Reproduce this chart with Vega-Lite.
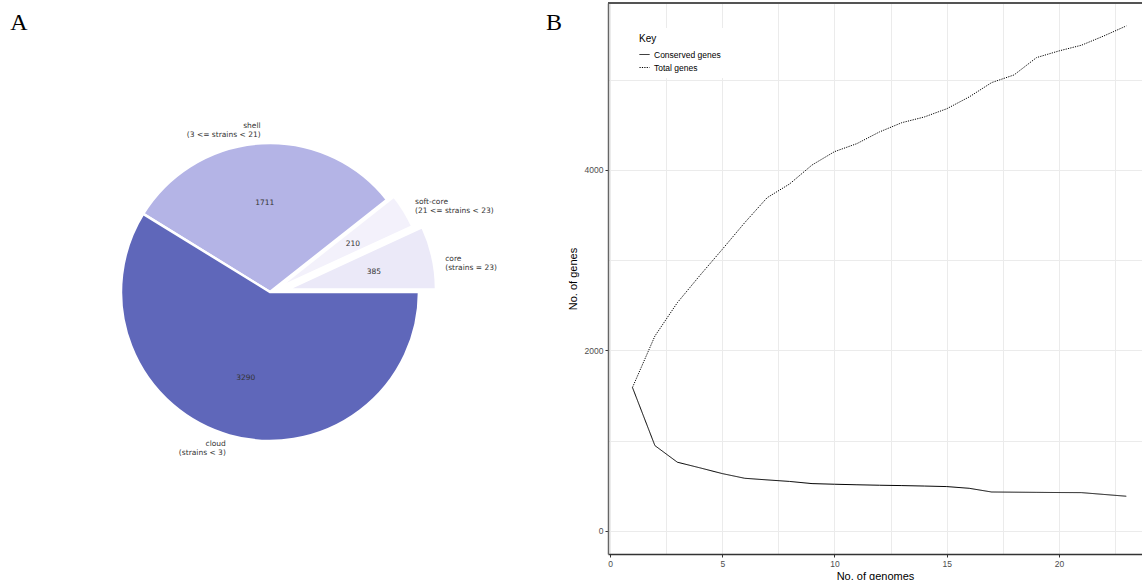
{
  "$schema": "https://vega.github.io/schema/vega-lite/v6.json",
  "padding": {"left": 10, "top": 2, "right": 0, "bottom": 0},
  "background": "white",
  "config": {
    "view": {"stroke": null},
    "concat": {"spacing": 37},
    "axis": {
      "labelFont": "Liberation Sans",
      "labelFontSize": 8.5,
      "labelColor": "#4d4d4d",
      "titleFont": "Liberation Sans",
      "titleFontSize": 11,
      "titleFontWeight": "normal",
      "titleColor": "#000000",
      "tickColor": "#333333",
      "tickSize": 3,
      "gridColor": "#ebebeb",
      "gridWidth": 1
    }
  },
  "resolve": {"legend": {"strokeDash": "independent", "color": "independent"}, "scale": {"color": "independent", "strokeDash": "independent"}},
  "datasets": {
    "pie": [
      {"group": "core", "label": "core\n(strains = 23)", "genes": 385, "order": 1},
      {"group": "soft-core", "label": "soft-core\n(21 <= strains < 23)", "genes": 210, "order": 2},
      {"group": "shell", "label": "shell\n(3 <= strains < 21)", "genes": 1711, "order": 3},
      {"group": "cloud", "label": "cloud\n(strains < 3)", "genes": 3290, "order": 4}
    ],
    "curve": [
      {"genomes": 1, "series": "Conserved genes", "genes": 1590},
      {"genomes": 2, "series": "Conserved genes", "genes": 946},
      {"genomes": 3, "series": "Conserved genes", "genes": 762},
      {"genomes": 4, "series": "Conserved genes", "genes": 700},
      {"genomes": 5, "series": "Conserved genes", "genes": 636},
      {"genomes": 6, "series": "Conserved genes", "genes": 584},
      {"genomes": 7, "series": "Conserved genes", "genes": 566},
      {"genomes": 8, "series": "Conserved genes", "genes": 549},
      {"genomes": 9, "series": "Conserved genes", "genes": 525},
      {"genomes": 10, "series": "Conserved genes", "genes": 518},
      {"genomes": 11, "series": "Conserved genes", "genes": 512},
      {"genomes": 12, "series": "Conserved genes", "genes": 507},
      {"genomes": 13, "series": "Conserved genes", "genes": 503},
      {"genomes": 14, "series": "Conserved genes", "genes": 498},
      {"genomes": 15, "series": "Conserved genes", "genes": 492},
      {"genomes": 16, "series": "Conserved genes", "genes": 473},
      {"genomes": 17, "series": "Conserved genes", "genes": 432},
      {"genomes": 18, "series": "Conserved genes", "genes": 430},
      {"genomes": 19, "series": "Conserved genes", "genes": 428},
      {"genomes": 20, "series": "Conserved genes", "genes": 426},
      {"genomes": 21, "series": "Conserved genes", "genes": 425},
      {"genomes": 22, "series": "Conserved genes", "genes": 405},
      {"genomes": 23, "series": "Conserved genes", "genes": 385},
      {"genomes": 1, "series": "Total genes", "genes": 1590},
      {"genomes": 2, "series": "Total genes", "genes": 2160},
      {"genomes": 3, "series": "Total genes", "genes": 2530},
      {"genomes": 4, "series": "Total genes", "genes": 2830},
      {"genomes": 5, "series": "Total genes", "genes": 3120},
      {"genomes": 6, "series": "Total genes", "genes": 3416},
      {"genomes": 7, "series": "Total genes", "genes": 3693},
      {"genomes": 8, "series": "Total genes", "genes": 3845},
      {"genomes": 9, "series": "Total genes", "genes": 4055},
      {"genomes": 10, "series": "Total genes", "genes": 4203},
      {"genomes": 11, "series": "Total genes", "genes": 4292},
      {"genomes": 12, "series": "Total genes", "genes": 4421},
      {"genomes": 13, "series": "Total genes", "genes": 4524},
      {"genomes": 14, "series": "Total genes", "genes": 4587},
      {"genomes": 15, "series": "Total genes", "genes": 4678},
      {"genomes": 16, "series": "Total genes", "genes": 4809},
      {"genomes": 17, "series": "Total genes", "genes": 4968},
      {"genomes": 18, "series": "Total genes", "genes": 5053},
      {"genomes": 19, "series": "Total genes", "genes": 5245},
      {"genomes": 20, "series": "Total genes", "genes": 5319},
      {"genomes": 21, "series": "Total genes", "genes": 5382},
      {"genomes": 22, "series": "Total genes", "genes": 5485},
      {"genomes": 23, "series": "Total genes", "genes": 5596}
    ]
  },
  "hconcat": [
    {
      "width": 478,
      "height": 578,
      "title": {"text": "A", "orient": "left", "angle": 0, "anchor": "end", "font": "Liberation Serif", "fontSize": 24, "fontWeight": "normal", "color": "#000000", "offset": -14, "baseline": "top", "dy": 8},
      "data": {"name": "pie"},
      "transform": [
        {"stack": "genes", "groupby": [], "sort": [{"field": "order", "order": "ascending"}], "as": ["t0", "t1"], "offset": "normalize"},
        {"calculate": "(datum.t0 + datum.t1) / 2", "as": "tm"}
      ],
      "encoding": {
        "color": {"field": "group", "type": "nominal", "legend": null,
          "scale": {"domain": ["cloud", "shell", "soft-core", "core"], "range": ["#5f67ba", "#b4b4e6", "#f3f1fb", "#ebe9f8"]}}
      },
      "layer": [
        {
          "transform": [{"filter": "datum.group == 'shell' || datum.group == 'cloud'"}],
          "mark": {"type": "arc", "radius": 149, "stroke": "white", "strokeWidth": 2.5},
          "encoding": {
            "theta": {"field": "t0", "type": "quantitative", "scale": {"domain": [0, 1], "range": [1.5707963, -4.712389]}},
            "theta2": {"field": "t1"}
          }
        },
        {
          "transform": [{"filter": "datum.group == 'core'"}],
          "mark": {"type": "arc", "radius": 149, "stroke": "white", "strokeWidth": 2.5, "xOffset": 17, "yOffset": -2.5},
          "encoding": {
            "theta": {"field": "t0", "type": "quantitative"},
            "theta2": {"field": "t1"}
          }
        },
        {
          "transform": [{"filter": "datum.group == 'soft-core'"}],
          "mark": {"type": "arc", "radius": 149, "stroke": "white", "strokeWidth": 2.5, "xOffset": 7, "yOffset": -3.3},
          "encoding": {
            "theta": {"field": "t0", "type": "quantitative"},
            "theta2": {"field": "t1"}
          }
        },
        {
          "transform": [{"filter": "datum.group == 'shell' || datum.group == 'cloud'"}],
          "mark": {"type": "text", "radius": 89, "font": "DejaVu Sans", "fontSize": 7.5},
          "encoding": {
            "theta": {"field": "tm", "type": "quantitative"},
            "text": {"field": "genes"},
            "color": {"value": "#333333"}
          }
        },
        {
          "transform": [{"filter": "datum.group == 'core'"}],
          "mark": {"type": "text", "radius": 89, "font": "DejaVu Sans", "fontSize": 7.5, "xOffset": 17, "yOffset": -2.5, "dy": 2},
          "encoding": {
            "theta": {"field": "tm", "type": "quantitative"},
            "text": {"field": "genes"},
            "color": {"value": "#333333"}
          }
        },
        {
          "transform": [{"filter": "datum.group == 'soft-core'"}],
          "mark": {"type": "text", "radius": 89, "font": "DejaVu Sans", "fontSize": 7.5, "xOffset": 7, "yOffset": -3.3, "dy": 2},
          "encoding": {
            "theta": {"field": "tm", "type": "quantitative"},
            "text": {"field": "genes"},
            "color": {"value": "#333333"}
          }
        },
        {
          "transform": [{"filter": "datum.group == 'shell' || datum.group == 'cloud'"}],
          "mark": {"type": "text", "radius": 162, "align": "right", "baseline": "middle", "lineBreak": "\n", "lineHeight": 9, "font": "DejaVu Sans", "fontSize": 7.5, "dy": -4},
          "encoding": {
            "theta": {"field": "tm", "type": "quantitative"},
            "text": {"field": "label"},
            "color": {"value": "#333333"}
          }
        },
        {
          "transform": [{"filter": "datum.group == 'core'"}],
          "mark": {"type": "text", "radius": 162, "align": "left", "baseline": "middle", "lineBreak": "\n", "lineHeight": 9, "font": "DejaVu Sans", "fontSize": 7.5, "xOffset": 17, "yOffset": -2.5, "dy": 4},
          "encoding": {
            "theta": {"field": "tm", "type": "quantitative"},
            "text": {"field": "label"},
            "color": {"value": "#333333"}
          }
        },
        {
          "transform": [{"filter": "datum.group == 'soft-core'"}],
          "mark": {"type": "text", "radius": 162, "align": "left", "baseline": "middle", "lineBreak": "\n", "lineHeight": 9, "font": "DejaVu Sans", "fontSize": 7.5, "xOffset": 7, "yOffset": -3.3, "dy": -2},
          "encoding": {
            "theta": {"field": "tm", "type": "quantitative"},
            "text": {"field": "label"},
            "color": {"value": "#333333"}
          }
        }
      ]
    },
    {
      "width": 534,
      "height": 551,
      "title": {"text": "B", "orient": "left", "angle": 0, "anchor": "end", "font": "Liberation Serif", "fontSize": 24, "fontWeight": "normal", "color": "#000000", "offset": -11, "baseline": "top", "dy": 8},
      "data": {"name": "curve"},
      "layer": [
        {
          "mark": {"type": "line", "color": "#000000", "strokeWidth": 1},
          "encoding": {
            "x": {"field": "genomes", "type": "quantitative", "title": "No. of genomes",
              "scale": {"domain": [-0.09, 23.7], "nice": false, "zero": false},
              "axis": {
                "values": [0, 2.5, 5, 7.5, 10, 12.5, 15, 17.5, 20, 22.5],
                "labelExpr": "datum.value % 5 == 0 ? datum.label : ''",
                "tickOpacity": {"condition": {"test": "datum.value % 5 == 0", "value": 1}, "value": 0},
                "domainColor": "#333333",
                "domainWidth": 1.3,
                "titlePadding": 3,
                "labelPadding": 2
              }},
            "y": {"field": "genes", "type": "quantitative", "title": "No. of genes",
              "scale": {"domain": [-255, 5850], "nice": false, "zero": false},
              "axis": {
                "values": [0, 1000, 2000, 3000, 4000, 5000],
                "format": "d",
                "labelExpr": "datum.value % 2000 == 0 ? datum.label : ''",
                "tickOpacity": {"condition": {"test": "datum.value % 2000 == 0", "value": 1}, "value": 0},
                "domainColor": "#666666",
                "domainWidth": 1.5,
                "titlePadding": 6,
                "labelPadding": 2
              }},
            "strokeDash": {"field": "series", "type": "nominal",
              "scale": {"domain": ["Conserved genes", "Total genes"], "range": [[1, 0], [1.2, 1.2]]},
              "legend": {
                "title": "Key",
                "orient": "top-left",
                "offset": 25,
                "fillColor": "white",
                "padding": 6,
                "symbolType": "stroke",
                "symbolSize": 100,
                "symbolStrokeColor": "#000000",
                "symbolStrokeWidth": 1,
                "labelFont": "Liberation Sans",
                "labelFontSize": 8.5,
                "titleFont": "Liberation Sans",
                "titleFontSize": 10,
                "titleFontWeight": "normal",
                "rowPadding": 3
              }}
          }
        },
        {
          "mark": {"type": "rule", "color": "#555555", "strokeWidth": 1},
          "encoding": {"y": {"datum": 5850}}
        }
      ]
    }
  ]
}
